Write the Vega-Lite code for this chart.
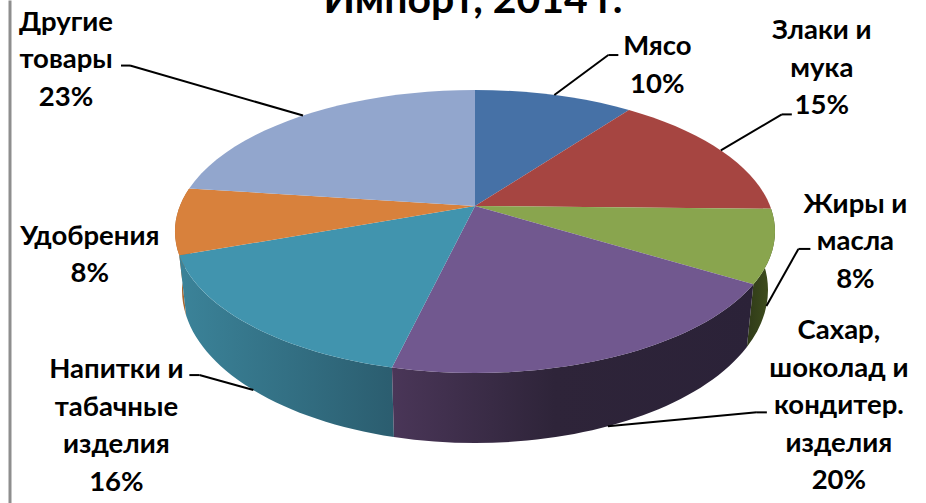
{
"$schema":"https://vega.github.io/schema/vega-lite/v6.json",
"width":926,"height":503,"padding":0,"autosize":{"type":"none"},"background":"#ffffff",
"config":{"view":{"stroke":null},"axisY":{"offset":-9.5,"domain":true,"domainColor":"#8e8e8e","domainWidth":3,"labels":false,"ticks":false,"grid":false}},
"data":{"values":[
{"category":"Мясо","label":"Мясо","share":10},
{"category":"Злаки","label":"Злаки и\nмука","share":15},
{"category":"Жиры","label":"Жиры и\nмасла","share":8.4},
{"category":"Сахар","label":"Сахар,\nшоколад и\nкондитер.\nизделия","share":20.4},
{"category":"Напитки","label":"Напитки и\nтабачные\nизделия","share":16},
{"category":"Удобрения","label":"Удобрения","share":7.6},
{"category":"Другие","label":"Другие\nтовары","share":22.6}
]},
"transform":[
{"window":[{"op":"sum","field":"share","as":"cum1"}]},
{"calculate":"datum.cum1-datum.share","as":"cum0"},
{"calculate":"2*atan2(0.85*sin(datum.cum0/100*PI),cos(datum.cum0/100*PI))","as":"t0"},
{"calculate":"2*atan2(0.85*sin(datum.cum1/100*PI),cos(datum.cum1/100*PI))","as":"t1"},
{"calculate":"2*atan2(0.85*sin((datum.cum0+datum.cum1)/200*PI),cos((datum.cum0+datum.cum1)/200*PI))","as":"tm"},
{"calculate":"'M0,0L'+300*sin(datum.t0)+','+(25.5-141.5*cos(datum.t0))+'A300,141.5 0 0 1 '+300*sin(datum.t1)+','+(25.5-141.5*cos(datum.t1))+'Z'","as":"wedge"},
{"calculate":"'M'+300*sin(datum.t0)+','+(25.5-141.5*cos(datum.t0))+'A300,141.5 0 0 1 '+300*sin(datum.t1)+','+(25.5-141.5*cos(datum.t1))+'L'+293*sin(datum.t1)+','+(84-153*cos(datum.t1))+'A293,153 0 0 0 '+293*sin(datum.t0)+','+(84-153*cos(datum.t0))+'Z'","as":"wall"},
{"calculate":"475","as":"cx"},
{"calculate":"206","as":"cy"},
{"calculate":"datum.tm>PI/2&&datum.tm<3*PI/2","as":"front"},
{"calculate":"475+(datum.front?293:300)*sin(datum.tm)","as":"ax"},
{"calculate":"datum.front?290-153*cos(datum.tm):231.5-141.5*cos(datum.tm)","as":"ay"},
{"calculate":"{'Мясо':[103,-40,54,-40,64],'Злаки':[101,-111,61,-36,71],'Жиры':[89,-93,32,-57,44],'Сахар':[231,-87,149,-14,159],'Напитки':[-137,-12,-54,-15,-64],'Удобрения':[-86,24,0,0,0],'Другие':[-237,-85,-173,-50,-182]}[datum.category]","as":"off"},
{"calculate":"datum.ax+datum.off[0]","as":"lx"},
{"calculate":"datum.ay+datum.off[1]","as":"ly"},
{"calculate":"datum.ax+datum.off[2]","as":"ex"},
{"calculate":"datum.ay+datum.off[3]","as":"ey"},
{"calculate":"datum.ax+datum.off[4]","as":"fx"},
{"calculate":"datum.label+'\\n'+round(datum.share)+'%'","as":"text"}
],
"encoding":{
"x":{"field":"cx","type":"quantitative","scale":{"domain":[0,926],"nice":false,"zero":false},"axis":null},
"y":{"field":"cy","type":"quantitative","scale":{"domain":[503,0],"nice":false,"zero":false},"title":null}
},
"layer":[
{"transform":[{"filter":"datum.category==='Удобрения'"}],
 "mark":{"type":"point","filled":true,"opacity":1,"fill":"#a8662f"},
 "encoding":{"size":{"value":4},"shape":{"field":"wall","type":"nominal","scale":null,"legend":null}}},
{"transform":[{"filter":"datum.category==='Жиры'"}],
 "mark":{"type":"point","filled":true,"opacity":1,"fill":{"gradient":"linear","x1":0,"y1":0,"x2":1,"y2":0,"stops":[{"offset":0,"color":"#2f3a18"},{"offset":1,"color":"#42521f"}]}},
 "encoding":{"size":{"value":4},"shape":{"field":"wall","type":"nominal","scale":null,"legend":null}}},
{"transform":[{"filter":"datum.category==='Напитки'"}],
 "mark":{"type":"point","filled":true,"opacity":1,"fill":{"gradient":"linear","x1":0,"y1":0,"x2":1,"y2":0,"stops":[{"offset":0,"color":"#3b8399"},{"offset":1,"color":"#2b5d6f"}]}},
 "encoding":{"size":{"value":4},"shape":{"field":"wall","type":"nominal","scale":null,"legend":null}}},
{"transform":[{"filter":"datum.category==='Сахар'"}],
 "mark":{"type":"point","filled":true,"opacity":1,"fill":{"gradient":"linear","x1":0,"y1":0,"x2":1,"y2":0,"stops":[{"offset":0,"color":"#4a3658"},{"offset":0.45,"color":"#2e2439"},{"offset":1,"color":"#2b2238"}]}},
 "encoding":{"size":{"value":4},"shape":{"field":"wall","type":"nominal","scale":null,"legend":null}}},
{"mark":{"type":"point","filled":true,"opacity":1},
 "encoding":{"size":{"value":4},
  "shape":{"field":"wedge","type":"nominal","scale":null,"legend":null},
  "color":{"field":"category","type":"nominal","legend":null,"scale":{"domain":["Мясо","Злаки","Жиры","Сахар","Напитки","Удобрения","Другие"],"range":["#4671a6","#a64541","#89a54e","#71588f","#4194ae","#d8813c","#92a6cd"]}}}},
{"transform":[{"filter":"datum.category!=='Удобрения'"}],
 "mark":{"type":"rule","color":"#000000","strokeWidth":2},
 "encoding":{"x":{"field":"ax","type":"quantitative"},"y":{"field":"ay","type":"quantitative","title":null},"x2":{"field":"ex"},"y2":{"field":"ey"}}},
{"transform":[{"filter":"datum.category!=='Удобрения'"}],
 "mark":{"type":"rule","color":"#000000","strokeWidth":2},
 "encoding":{"x":{"field":"ex","type":"quantitative"},"y":{"field":"ey","type":"quantitative","title":null},"x2":{"field":"fx"}}},
{"mark":{"type":"text","font":"Lato","fontSize":27.5,"fontWeight":"bold","color":"#000000","align":"center","baseline":"alphabetic","lineBreak":"\n","lineHeight":37.5},
 "encoding":{"x":{"field":"lx","type":"quantitative"},"y":{"field":"ly","type":"quantitative","title":null},"text":{"field":"text","type":"nominal"}}},
{"data":{"values":[{"heading":"Импорт, 2014 г.","hx":473,"hy":13}]},
 "mark":{"type":"text","font":"Lato","fontSize":41,"fontWeight":"bold","color":"#000000","align":"center","baseline":"alphabetic"},
 "encoding":{"x":{"field":"hx","type":"quantitative"},"y":{"field":"hy","type":"quantitative","title":null},"text":{"field":"heading","type":"nominal"}}}
]
}
